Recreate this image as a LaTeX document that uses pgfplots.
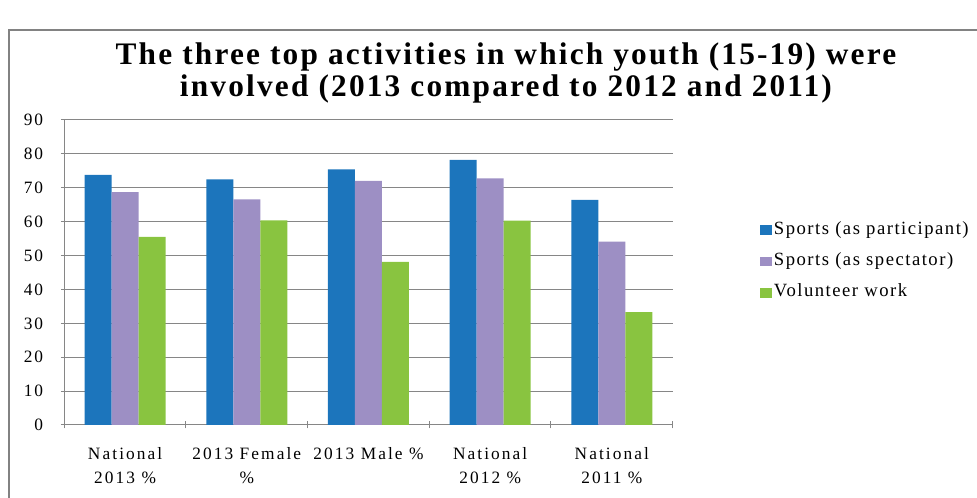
\documentclass[border=0pt]{standalone}
\usepackage{pgfplots}
\pgfplotsset{compat=1.18}
\usepackage{fontspec}
\setmainfont{Liberation Serif}
\newfontfamily\tickfont[LetterSpace=12]{Liberation Serif}
\newfontfamily\legfont[LetterSpace=8]{Liberation Serif}
\newfontfamily\titlefont[LetterSpace=7]{Liberation Serif}

\definecolor{partblue}{RGB}{28,117,188}
\definecolor{specpurple}{RGB}{157,143,196}
\definecolor{volgreen}{RGB}{137,196,64}
\definecolor{gridgray}{RGB}{134,134,134}
\definecolor{framegray}{RGB}{130,130,130}

\begin{document}
\begin{tikzpicture}
  \useasboundingbox (0,0) rectangle (732.75pt,373.5pt);
  % outer chart frame (only left and top edges are inside the picture)
  \draw[framegray, line width=1.5pt] (6.75pt,-2pt) -- (6.75pt,351pt) -- (740pt,351pt);

  \begin{axis}[
      at={(48.2pt,54.75pt)},
      anchor=south west,
      scale only axis,
      width=456.3pt,
      height=228.75pt,
      ybar=0pt,
      bar width=20.25pt,
      ymin=0, ymax=90,
      ytick={0,10,...,90},
      xmin=-0.5, xmax=4.5,
      xtick={0,1,2,3,4},
      xticklabels={National\\2013 \%, 2013 Female\\\%, 2013 Male \%, National\\2012 \%, National\\2011 \%},
      minor xtick={-0.5,0.5,...,4.5},
      major x tick style={draw=none},
      minor tick length=5.25pt,
      major tick length=5.25pt,
      tick align=outside,
      axis lines=left,
      axis line style={-, gridgray, line width=0.75pt},
      tick style={gridgray, line width=0.75pt},
      ymajorgrids,
      grid style={gridgray, line width=0.75pt},
      /pgf/number format/assume math mode=true,
      ticklabel style={font=\tickfont\fontsize{13}{18.5}\selectfont},
      yticklabel style={inner sep=0pt, xshift=-13pt},
      xticklabel style={align=center, anchor=north, inner sep=0pt, yshift=-13.7pt},
      title={The three top activities in which youth (15-19) were\\involved (2013 compared to 2012 and 2011)},
      title style={at={(0.726,1.243)}, anchor=north, align=center,
        font=\titlefont\bfseries\fontsize{23.5}{23.8}\selectfont},
      legend style={at={(1.143,0.536)}, anchor=west, draw=none, fill=none,
        font=\legfont\fontsize{14}{16}\selectfont, row sep=8.5pt,
        legend cell align=left, inner sep=0pt,
        nodes={inner sep=1.5pt, text height=9pt, text depth=3pt}},
      legend image code/.code={\path[#1, draw=none] (0pt,-3.6pt) rectangle (9pt,3.6pt);},
    ]
    % Sports (as participant)
    \addplot[fill=partblue, draw=none] coordinates {
      (0,73.8) (1,72.5) (2,75.4) (3,78.2) (4,66.4)};
    % Sports (as spectator)
    \addplot[fill=specpurple, draw=none] coordinates {
      (0,68.7) (1,66.6) (2,72.0) (3,72.8) (4,54.1)};
    % Volunteer work
    \addplot[fill=volgreen, draw=none] coordinates {
      (0,55.5) (1,60.4) (2,48.1) (3,60.3) (4,33.3)};
    \legend{Sports (as participant), Sports (as spectator), Volunteer work}
  \end{axis}
\end{tikzpicture}
\end{document}
